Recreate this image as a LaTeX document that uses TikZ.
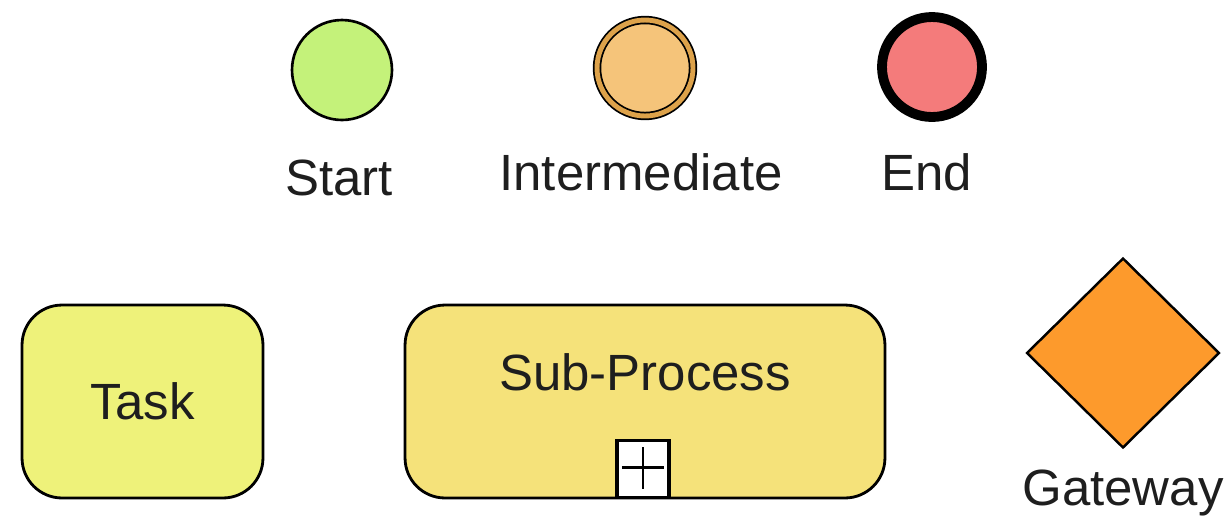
\documentclass[tikz,border=0pt]{standalone}
\usepackage{fontspec}
\setmainfont{Liberation Sans}
\usetikzlibrary{shapes.geometric,positioning}
\definecolor{startgreen}{HTML}{C4F27A}
\definecolor{midorange}{HTML}{F5C47A}
\definecolor{midring}{HTML}{DDA24A}
\definecolor{endred}{HTML}{F47B7B}
\definecolor{taskyellow}{HTML}{EEF27A}
\definecolor{subyellow}{HTML}{F5E27A}
\definecolor{gateorange}{HTML}{FD9A2C}
\definecolor{labelgray}{HTML}{1E1E1E}
\tikzset{
    every node/.style={font=\fontsize{29}{33}\selectfont, text=labelgray},
    event/.style ={circle, draw, minimum size = 2cm, inner sep=0pt, line width=1.5pt},
    activity/.style ={rectangle, rounded corners=0.8cm, draw, line width=1.6pt,
        minimum height=3.86cm},
    gate/.style ={diamond, draw, fill=gateorange, line width=1.4pt, inner sep=0pt,
        minimum width=3.86cm, minimum height=3.8cm},
    el/.style = {anchor=base, inner sep=0pt}
}

\begin{document}
\begin{tikzpicture}[x=0.02cm, y=-0.02cm]
    \useasboundingbox (0,0) rectangle (1230,515);

    % events
    \node[event, fill=startgreen] (start) at (342,70) {};
    \node[event, fill=midorange, line width=1pt, double=midring,
          double distance=2.8pt, minimum size=1.92cm] (mid) at (645,68) {};
    \node[event, fill=endred, line width=5.6pt, minimum size=2.0cm] (end) at (932,67) {};

    \node[el] (startlbl) at (339,195) {Start};
    \node[el] (midlbl) at (641,190) {Intermediate};
    \node[el] (endlbl) at (927,190) {End};

    % task and sub-process
    \node[activity, fill=taskyellow, minimum width=4.82cm] (task) at (142.5,401.5) {Task};
    \node[activity, fill=subyellow, minimum width=9.6cm] (sub) at (645,401.5) {};
    \node (sublbl) at ([yshift=0.59cm]sub.center) {Sub-Process};

    % collapsed marker
    \node[draw, fill=white, line width=1.8pt, anchor=south, inner sep=0pt,
          minimum width=1.04cm, minimum height=1.14cm] (plus) at ([xshift=-0.04cm]sub.south) {};
    \draw[line width=1.6pt] ([xshift=0.13cm,yshift=0.03cm]plus.west) -- ([xshift=-0.13cm,yshift=0.03cm]plus.east);
    \draw[line width=1.6pt] ([yshift=-0.16cm]plus.north) -- ([yshift=0.2cm]plus.south);

    % gateway
    \node[gate] (gw) at (1123,353) {};
    \node[el] (gwlbl) at (1123,505) {Gateway};

\end{tikzpicture}
\end{document}
